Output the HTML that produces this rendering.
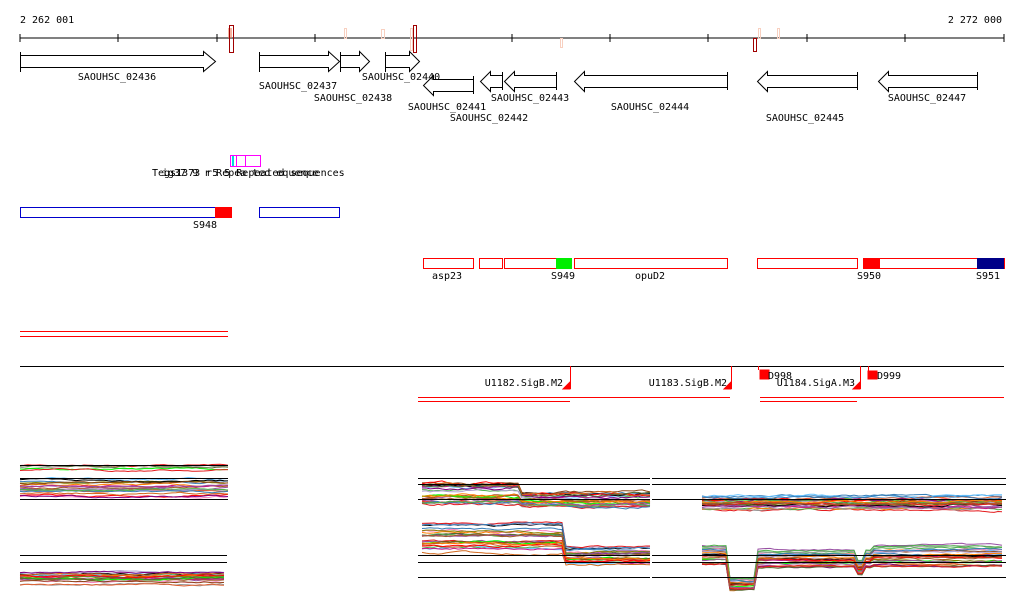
<!DOCTYPE html>
<html><head><meta charset="utf-8"><style>
html,body{margin:0;padding:0;background:#fff;}
svg{display:block;}
text{font-family:"DejaVu Sans Mono","Liberation Mono",monospace;font-size:10px;fill:#000;}
</style></head><body>
<svg id="s" width="1024" height="611" viewBox="0 0 1024 611" xmlns="http://www.w3.org/2000/svg">
<text x="20" y="23">2 262 001</text>
<text x="1002" y="23" text-anchor="end">2 272 000</text>
<line x1="20" y1="38" x2="1004" y2="38" stroke="#000"/>
<g stroke="#000">
<line x1="20" y1="34" x2="20" y2="42"/><line x1="118" y1="34" x2="118" y2="42"/><line x1="217" y1="34" x2="217" y2="42"/><line x1="315" y1="34" x2="315" y2="42"/><line x1="413" y1="34" x2="413" y2="42"/><line x1="512" y1="34" x2="512" y2="42"/><line x1="610" y1="34" x2="610" y2="42"/><line x1="708" y1="34" x2="708" y2="42"/><line x1="807" y1="34" x2="807" y2="42"/><line x1="905" y1="34" x2="905" y2="42"/><line x1="1004" y1="34" x2="1004" y2="42"/>
</g>
<g fill="none" stroke="#f8d0c0">
<rect x="344.5" y="28.5" width="2" height="10"/><rect x="381.5" y="29.5" width="3" height="9"/><rect x="410.5" y="28.5" width="2" height="22"/><rect x="560.5" y="38.5" width="2" height="9"/><rect x="758.5" y="28.5" width="2" height="10"/><rect x="777.5" y="28.5" width="2" height="10"/>
</g>
<rect x="228" y="28" width="4" height="10" fill="#f08060" opacity="0.6"/>
<g fill="none" stroke="#a00000">
<rect x="229.5" y="25.5" width="4" height="27"/><rect x="413.5" y="25.5" width="3" height="27"/><rect x="753.5" y="38.5" width="3" height="13"/>
</g>
<g fill="#fff" stroke="#000">
<path d="M20.5,52v20M20.5,55.5h183v-4l12,10l-12,10v-4h-183"/>
<path d="M259.5,52v20M259.5,55.5h69v-4l11,10l-11,10v-4h-69"/>
<path d="M340.5,52v20M340.5,55.5h19v-4l10,10l-10,10v-4h-19"/>
<path d="M385.5,52v20M385.5,55.5h24v-4l10,10l-10,10v-4h-24"/>
<path d="M473.5,76v18M473.5,79.5h-40v-4l-10,10l10,10v-4h40"/>
<path d="M502.5,72v18M502.5,75.5h-12v-4l-10,10l10,10v-4h12"/>
<path d="M556.5,72v18M556.5,75.5h-42v-4l-10,10l10,10v-4h42"/>
<path d="M727.5,72v18M727.5,75.5h-143v-4l-10,10l10,10v-4h143"/>
<path d="M857.5,72v18M857.5,75.5h-90v-4l-10,10l10,10v-4h90"/>
<path d="M977.5,72v18M977.5,75.5h-89v-4l-10,10l10,10v-4h89"/>
</g>
<text x="117" y="80" text-anchor="middle">SAOUHSC_02436</text>
<text x="298" y="89" text-anchor="middle">SAOUHSC_02437</text>
<text x="353" y="101" text-anchor="middle">SAOUHSC_02438</text>
<text x="401" y="80" text-anchor="middle">SAOUHSC_02440</text>
<text x="447" y="110" text-anchor="middle">SAOUHSC_02441</text>
<text x="489" y="121" text-anchor="middle">SAOUHSC_02442</text>
<text x="530" y="101" text-anchor="middle">SAOUHSC_02443</text>
<text x="650" y="110" text-anchor="middle">SAOUHSC_02444</text>
<text x="805" y="121" text-anchor="middle">SAOUHSC_02445</text>
<text x="927" y="101" text-anchor="middle">SAOUHSC_02447</text>
<g fill="none" stroke="#f0f">
<rect x="230.5" y="155.5" width="30" height="11"/><line x1="236.5" y1="155" x2="236.5" y2="166"/><line x1="245.5" y1="155" x2="245.5" y2="166"/>
</g>
<rect x="232" y="156" width="2" height="10" fill="#0dd"/>
<text x="152" y="176">Tegs1373 r5 5 Repeated sequences</text>
<text x="162" y="176">  ig37 9  r  Repea ted  equence</text>
<rect x="20.5" y="207.5" width="211" height="10" fill="none" stroke="#00c"/>
<rect x="215" y="207" width="17" height="11" fill="#f00"/>
<rect x="259.5" y="207.5" width="80" height="10" fill="none" stroke="#00c"/>
<text x="205" y="228" text-anchor="middle">S948</text>
<g fill="none" stroke="#f00">
<rect x="423.5" y="258.5" width="50" height="10"/><rect x="479.5" y="258.5" width="23" height="10"/><rect x="504.5" y="258.5" width="67" height="10"/><rect x="574.5" y="258.5" width="153" height="10"/><rect x="757.5" y="258.5" width="100" height="10"/><rect x="863.5" y="258.5" width="141" height="10"/>
</g>
<rect x="556" y="258" width="16" height="11" fill="#0e0"/>
<rect x="863" y="258" width="17" height="11" fill="#f00"/>
<rect x="977" y="258" width="27" height="11" fill="#008"/>
<text x="447" y="279" text-anchor="middle">asp23</text>
<text x="563" y="279" text-anchor="middle">S949</text>
<text x="650" y="279" text-anchor="middle">opuD2</text>
<text x="869" y="279" text-anchor="middle">S950</text>
<text x="988" y="279" text-anchor="middle">S951</text>
<line x1="20" y1="331.5" x2="228" y2="331.5" stroke="#f00"/>
<line x1="20" y1="336.5" x2="228" y2="336.5" stroke="#f00"/>
<line x1="20" y1="366.5" x2="1004" y2="366.5" stroke="#000"/>
<g stroke="#f00" fill="#f00">
<line x1="570.5" y1="366" x2="570.5" y2="389"/><polygon points="563,389 570,389 570,382"/>
<line x1="731.5" y1="366" x2="731.5" y2="389"/><polygon points="724,389 731,389 731,382"/>
<line x1="860.5" y1="366" x2="860.5" y2="389"/><polygon points="853,389 860,389 860,382"/>
<line x1="758.5" y1="366" x2="758.5" y2="370"/><rect x="760" y="370" width="9" height="9"/>
<line x1="868.5" y1="366" x2="868.5" y2="372"/><rect x="868" y="371" width="9" height="8"/>
</g>
<text x="563" y="386" text-anchor="end">U1182.SigB.M2</text>
<text x="727" y="386" text-anchor="end">U1183.SigB.M2</text>
<text x="855" y="386" text-anchor="end">U1184.SigA.M3</text>
<text x="768" y="379">D998</text>
<text x="877" y="379">D999</text>
<line x1="418" y1="397.5" x2="730" y2="397.5" stroke="#f00"/>
<line x1="760" y1="397.5" x2="1004" y2="397.5" stroke="#f00"/>
<line x1="418" y1="401.5" x2="570" y2="401.5" stroke="#f00"/>
<line x1="760" y1="401.5" x2="857" y2="401.5" stroke="#f00"/>
<g id="plots"></g>
<g stroke="#000">
<line x1="20" y1="465.5" x2="228" y2="465.5"/><line x1="20" y1="478.5" x2="228" y2="478.5"/><line x1="20" y1="499.5" x2="228" y2="499.5"/>
<line x1="20" y1="555.5" x2="227" y2="555.5"/><line x1="20" y1="562.5" x2="227" y2="562.5"/>
<line x1="418" y1="478.5" x2="650" y2="478.5"/><line x1="418" y1="484.5" x2="650" y2="484.5"/><line x1="418" y1="499.5" x2="650" y2="499.5"/>
<line x1="652" y1="478.5" x2="1006" y2="478.5"/><line x1="652" y1="484.5" x2="1006" y2="484.5"/><line x1="652" y1="499.5" x2="1006" y2="499.5"/>
<line x1="418" y1="555.5" x2="650" y2="555.5"/><line x1="418" y1="562.5" x2="650" y2="562.5"/><line x1="418" y1="577.5" x2="650" y2="577.5"/>
<line x1="652" y1="555.5" x2="1006" y2="555.5"/><line x1="652" y1="562.5" x2="1006" y2="562.5"/><line x1="652" y1="577.5" x2="1006" y2="577.5"/>
</g>
</svg>
<script>
(function(){
var seed=7;function r(){seed=(seed*16807)%2147483647;return seed/2147483647;}
var cols=["#e41a1c","#377eb8","#4daf4a","#984ea3","#ff7f00","#a65628","#f781bf","#999999","#66c2ff","#808000","#c71585","#e06030","#00ff00","#000000","#8b4513","#ff0000","#b0a0d0","#d2691e","#800080","#556b2f"];
var g=document.getElementById("plots");var ns="http://www.w3.org/2000/svg";
function band(x0,x1,fy,n,jit){
 for(var i=0;i<n;i++){var off=r();var pts=[];var d=0;
  for(var x=x0;x<=x1;x+=4){d+= (r()-0.5)*jit; d*=0.85; var y=fy(x,off)+d; pts.push(x+","+y.toFixed(1));}
  var p=document.createElementNS(ns,"polyline");p.setAttribute("points",pts.join(" "));
  p.setAttribute("fill","none");p.setAttribute("stroke",cols[i%cols.length]);p.setAttribute("stroke-width","1");g.appendChild(p);}
}
band(20,228,function(x,o){return 465+o*33;},24,1.5);
band(20,227,function(x,o){return 572+o*14;},20,1.5);
band(422,650,function(x,o){return x<520? 483+o*22 : 493+o*14;},26,2.5);
band(702,1004,function(x,o){return 494+o*16;},26,2);
band(422,650,function(x,o){return x<565? 522+o*32 : 546+o*20;},26,2);
band(702,1004,function(x,o){if(x>=728&&x<=755)return 578+o*12; if(x>=858&&x<=864)return 560+o*15; return x<728?545+o*20:(x>870? 545+o*22:550+o*18);},26,1.5);
})();
</script>
</body></html>
